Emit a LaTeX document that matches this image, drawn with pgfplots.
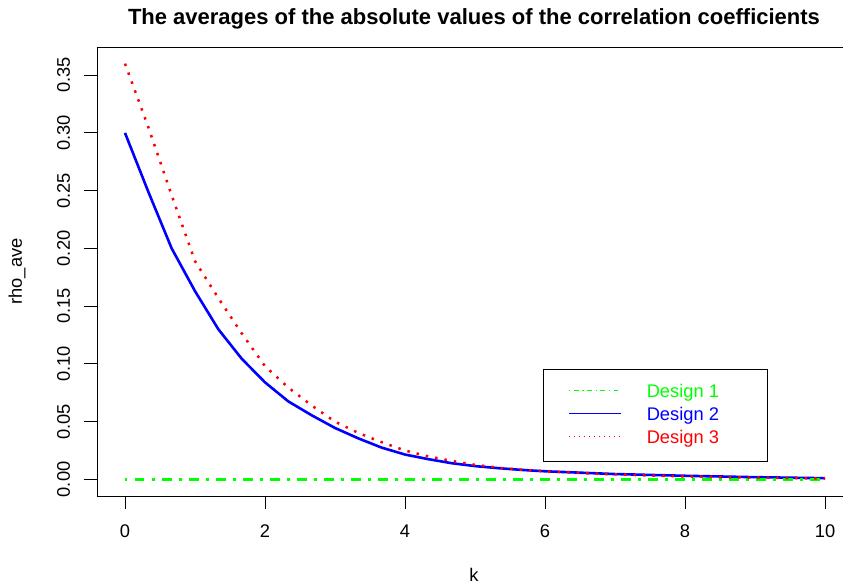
\documentclass[border=0pt]{standalone}
\usepackage{pgfplots}
\pgfplotsset{compat=1.18}
\usepackage{fontspec}
\setmainfont{Liberation Sans}
\definecolor{rgreen}{RGB}{0,255,0}
\definecolor{rblue}{RGB}{0,0,255}
\definecolor{rred}{RGB}{255,0,0}
\begin{document}
\begin{tikzpicture}
\begin{axis}[
  scale only axis, width=746bp, height=449bp,
  xmin=-0.4, xmax=10.257, ymin=-0.0144, ymax=0.3744,
  axis line style={line width=0.9bp},
  tick align=outside, major tick length=13bp,
  tick style={black, line width=0.9bp},
  xtick pos=bottom, ytick pos=left,
  xtick={0,2,4,6,8,10}, xticklabels={0,2,4,6,8,10},
  ytick={0,0.05,0.1,0.15,0.2,0.25,0.3,0.35},
  yticklabels={0.00,0.05,0.10,0.15,0.20,0.25,0.30,0.35},
  ticklabel style={font=\fontsize{18.3bp}{20bp}\selectfont},
  xticklabel style={anchor=base, yshift=-28bp},
  yticklabel style={xshift=-14bp, rotate=90, anchor=base},
  title={The averages of the absolute values of the correlation coefficients},
  title style={font=\bfseries\fontsize{22bp}{24bp}\selectfont, at={(0.5,1)}, anchor=base, yshift=17bp, xshift=4bp},
  xlabel={k},
  xlabel style={font=\fontsize{18.3bp}{20bp}\selectfont, at={(0.5,0)}, anchor=center, yshift=-79bp, xshift=4bp},
  ylabel={rho\_ave},
  ylabel style={font=\fontsize{18.3bp}{20bp}\selectfont, at={(0,0.5)}, anchor=center, yshift=80bp},
  legend style={at={(0.598,0.283)}, anchor=north west, draw=black, line width=0.9bp, fill=white,
    inner xsep=25bp, inner ysep=15bp, row sep=7bp,
    font=\fontsize{18.3bp}{20bp}\selectfont,
    nodes={inner sep=0bp, text height=13bp, text depth=3bp},
    /tikz/every odd column/.append style={column sep=25bp}},
  legend cell align=left,
]
\coordinate (bl) at (rel axis cs:0,0);
\addlegendimage{legend image code/.code={\draw[rgreen, line width=1.2bp, dash pattern=on 1.2bp off 3.6bp on 4.8bp off 3.6bp] (0bp,2bp) -- (52bp,2bp);}}
\addlegendentry{\makebox[96bp][l]{\textcolor{rgreen}{Design 1}}}
\addlegendimage{legend image code/.code={\draw[rblue, line width=1.2bp] (0bp,2bp) -- (52bp,2bp);}}
\addlegendentry{\makebox[96bp][l]{\textcolor{rblue}{Design 2}}}
\addlegendimage{legend image code/.code={\draw[rred, line width=1.2bp, dash pattern=on 1.2bp off 3.8bp] (0bp,2bp) -- (52bp,2bp);}}
\addlegendentry{\makebox[96bp][l]{\textcolor{rred}{Design 3}}}
% Design 2
\addplot[forget plot, rblue, line width=2.6bp] coordinates {
(0.0000,0.3000) (0.3333,0.2490) (0.6667,0.2000) (1.0000,0.1630) (1.3333,0.1300)
(1.6667,0.1045) (2.0000,0.0840) (2.3333,0.0675) (2.6667,0.0555) (3.0000,0.0445)
(3.3333,0.0355) (3.6667,0.0275) (4.0000,0.0215) (4.3333,0.0175) (4.6667,0.0140)
(5.0000,0.0115) (5.3333,0.0097) (5.6667,0.0082) (6.0000,0.0070) (6.3333,0.0062)
(6.6667,0.0054) (7.0000,0.0046) (7.3333,0.0041) (7.6667,0.0036) (8.0000,0.0031)
(8.3333,0.0027) (8.6667,0.0023) (9.0000,0.0019) (9.3333,0.0016) (9.6667,0.0013)
(10.0000,0.0010)};
% Design 1
\addplot[forget plot, rgreen, line width=2.6bp, dash pattern=on 2.5bp off 7.5bp on 9.5bp off 7.5bp] coordinates {
(0,0) (2,0) (4,0) (6,0) (8,0) (10,0)};
% Design 3
\addplot[forget plot, rred, line width=2.5bp, dash pattern=on 2.5bp off 7bp] coordinates {
(0.0000,0.3600) (0.3333,0.3050) (0.6667,0.2460) (1.0000,0.1890) (1.3333,0.1570)
(1.6667,0.1265) (2.0000,0.0980) (2.3333,0.0795) (2.6667,0.0640) (3.0000,0.0500)
(3.3333,0.0402) (3.6667,0.0322) (4.0000,0.0250) (4.3333,0.0199) (4.6667,0.0160)
(5.0000,0.0126) (5.3333,0.0101) (5.6667,0.0083) (6.0000,0.0070) (6.3333,0.0060)
(6.6667,0.0051) (7.0000,0.0043) (7.3333,0.0037) (7.6667,0.0031) (8.0000,0.0026)
(8.3333,0.0022) (8.6667,0.0018) (9.0000,0.0015) (9.3333,0.0012) (9.6667,0.0010)
(10.0000,0.0008)};
\end{axis}
\pgfresetboundingbox
\path (bl) ++(-97bp,-91bp) rectangle ++(843bp,587bp);
\end{tikzpicture}
\end{document}
